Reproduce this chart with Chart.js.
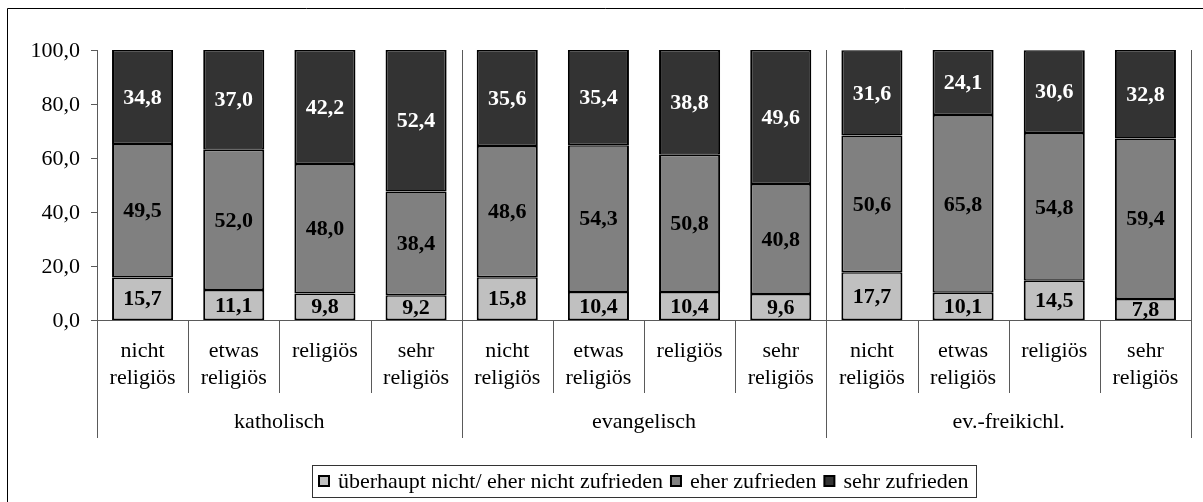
<!DOCTYPE html>
<html><head><meta charset="utf-8">
<script src="https://cdn.jsdelivr.net/npm/chart.js@4.4.1/dist/chart.umd.min.js"></script>
<style>html,body{margin:0;padding:0;background:#fff}#wrap{width:1203px;height:502px}</style>
</head><body>
<div id="wrap"><canvas id="c" width="1203" height="502"></canvas></div>
<script>
const subCategories = [["nicht","religiös"],["etwas","religiös"],["religiös"],["sehr","religiös"],
  ["nicht","religiös"],["etwas","religiös"],["religiös"],["sehr","religiös"],
  ["nicht","religiös"],["etwas","religiös"],["religiös"],["sehr","religiös"]];
const groups = ["katholisch","evangelisch","ev.-freikichl."];
const groupSize = 4;
const seriesNames = ["überhaupt nicht/ eher nicht zufrieden","eher zufrieden","sehr zufrieden"];
const lowVals  = [15.7,11.1,9.8,9.2,15.8,10.4,10.4,9.6,17.7,10.1,14.5,7.8];
const midVals  = [49.5,52.0,48.0,38.4,48.6,54.3,50.8,40.8,50.6,65.8,54.8,59.4];
const highVals = [34.8,37.0,42.2,52.4,35.6,35.4,38.8,49.6,31.6,24.1,30.6,32.8];
const yTicks = [0,20,40,60,80,100];
const colors = ["#c0c0c0","#808080","#333333"];
const labelColors = ["#000","#000","#fff"];

const SERIF = '"Liberation Serif", serif';
const FS = 22;
const fmt = v => v.toFixed(1).replace('.', ',');

const drawPlugin = {
  id: 'custom',
  beforeDraw(chart){
    const ctx = chart.ctx;
    ctx.save();
    ctx.fillStyle = '#fff';
    ctx.fillRect(0,0,chart.width,chart.height);
    ctx.restore();
  },
  afterDatasetsDraw(chart){
    const ctx = chart.ctx;
    const x = chart.scales.x, y = chart.scales.y;
    const area = chart.chartArea;
    ctx.save();
    // value labels
    ctx.font = 'bold ' + FS + 'px ' + SERIF;
    ctx.textAlign = 'center';
    ctx.textBaseline = 'middle';
    chart.data.datasets.forEach((ds, di) => {
      const meta = chart.getDatasetMeta(di);
      meta.data.forEach((bar, i) => {
        const cy = (bar.y + bar.base) / 2;
        ctx.fillStyle = labelColors[di];
        ctx.fillText(fmt(ds.data[i]), bar.x, cy + 1);
      });
    });
    // axes
    const n = subCategories.length;
    const step = (area.right - area.left) / n;
    const y0 = y.getPixelForValue(0);
    const yTop = y.getPixelForValue(100);
    ctx.strokeStyle = '#5a5a5a';
    ctx.lineWidth = 1;
    ctx.beginPath();
    ctx.moveTo(area.left - 6, Math.round(y0) + 0.5);
    ctx.lineTo(area.right, Math.round(y0) + 0.5);
    yTicks.forEach(t => {
      const py = Math.round(y.getPixelForValue(t)) + 0.5;
      ctx.moveTo(area.left - 6, py);
      ctx.lineTo(area.left, py);
    });
    for (let k = 0; k <= n; k++) {
      const px = Math.round(area.left + k * step) + 0.5;
      const isGroup = k % groupSize === 0;
      ctx.moveTo(px, isGroup ? yTop : y0);
      ctx.lineTo(px, isGroup ? y0 + 118 : y0 + 73);
    }
    ctx.stroke();
    // y tick labels
    ctx.fillStyle = '#000';
    ctx.font = FS + 'px ' + SERIF;
    ctx.textAlign = 'right';
    ctx.textBaseline = 'middle';
    yTicks.forEach(t => {
      ctx.fillText(fmt(t), area.left - 17, y.getPixelForValue(t) + 1);
    });
    // category labels
    ctx.textAlign = 'center';
    subCategories.forEach((lines, i) => {
      const cx = x.getPixelForValue(i);
      lines.forEach((ln, j) => ctx.fillText(ln, cx, y0 + 31 + j * 27));
    });
    groups.forEach((g, gi) => {
      const cx = area.left + (gi * groupSize + groupSize / 2) * step;
      ctx.fillText(g, cx, y0 + 102);
    });
    // legend (centered under plot)
    const ly0 = 465, lh = 32;
    const ly = ly0 + lh / 2;
    const mk = 10, gapM = 9, gapI = 8, pad = 7;
    const widths = seriesNames.map(s => ctx.measureText(s).width);
    const total = pad * 2 + widths.reduce((a, w) => a + mk + gapM + w, 0) + gapI * (widths.length - 1);
    const lx0 = Math.round((area.left + area.right) / 2 - total / 2);
    ctx.strokeStyle = '#333';
    ctx.lineWidth = 1;
    ctx.strokeRect(lx0 + 0.5, ly0 + 0.5, Math.round(total), lh);
    ctx.textAlign = 'left';
    let lx = lx0 + pad;
    seriesNames.forEach((s, i) => {
      ctx.fillStyle = colors[i];
      ctx.fillRect(lx, ly - 5, mk, mk);
      ctx.lineWidth = 2;
      ctx.strokeStyle = '#000';
      ctx.strokeRect(lx, ly - 5, mk, mk);
      ctx.fillStyle = '#000';
      ctx.fillText(s, lx + mk + gapM, ly + 1);
      lx += mk + gapM + widths[i] + gapI;
    });
    // outer frame (only left and top edges fall inside the picture)
    ctx.lineWidth = 1;
    ctx.strokeStyle = '#000';
    ctx.beginPath();
    ctx.moveTo(7.5, 502);
    ctx.lineTo(7.5, 8.5);
    ctx.lineTo(1203, 8.5);
    ctx.stroke();
    ctx.restore();
  }
};

const datasets = [lowVals, midVals, highVals].map((d, i) => ({
  label: seriesNames[i],
  data: d,
  backgroundColor: colors[i],
  borderColor: '#000',
  borderWidth: {left: 2, right: 2, top: 1.5, bottom: 1.5},
  borderSkipped: false,
  barPercentage: 0.67,
  categoryPercentage: 1.0
}));

function build(){
  new Chart(document.getElementById('c'), {
    type: 'bar',
    data: { labels: subCategories.map(l => l.join(' ')), datasets },
    options: {
      responsive: false,
      animation: false,
      events: [],
      layout: { padding: { left: 97, top: 50, right: 12, bottom: 182 } },
      plugins: { legend: { display: false }, tooltip: { enabled: false } },
      scales: {
        x: { stacked: true, display: false },
        y: { stacked: true, display: false, min: 0, max: 100 }
      }
    },
    plugins: [drawPlugin]
  });
}
Promise.all([
  document.fonts.load(FS + 'px "Liberation Serif"'),
  document.fonts.load('bold ' + FS + 'px "Liberation Serif"')
]).then(build, build);
</script>
</body></html>
